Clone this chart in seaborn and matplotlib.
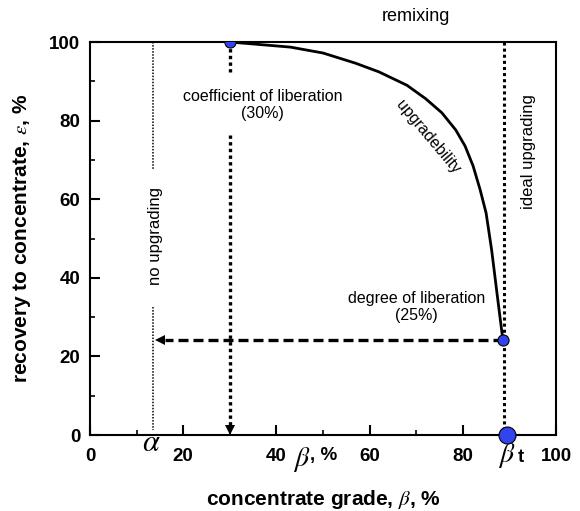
import matplotlib
matplotlib.use("Agg")
import matplotlib.pyplot as plt
import seaborn as sns
import pandas as pd

# ---- data ----
grade = [30, 43, 50, 57, 62, 68, 72, 75.5, 78.5, 80.5, 82.2, 83.7, 85.0, 86.2, 87.4, 88.6]
recovery = [100, 98.7, 97.2, 94.6, 92.4, 89, 85.6, 82.0, 77.6, 73.5, 68.5, 62.5, 56.5, 47, 35.5, 24.2]
point_grade = [30, 88.6]
point_recovery = [100, 24.2]
beta_t = 88.8
beta_t_point = 89.4
alpha = 13.5
liberation_coef = 30
liberation_degree = 24.2
x_ticks = [0, 20, 40, 60, 80, 100]
x_minor = [10, 30, 50, 70, 90]
y_ticks = [0, 20, 40, 60, 80, 100]
y_minor = [10, 30, 50, 70, 90]

sns.set_style("ticks", rc={"axes.edgecolor": "black", "text.color": "black",
                           "xtick.color": "black", "ytick.color": "black",
                           "axes.labelcolor": "black"})
plt.rcParams['font.family'] = ['Liberation Sans', 'DejaVu Sans']
plt.rcParams['mathtext.fontset'] = 'stix'

fig = plt.figure(figsize=(5.8, 5.11), dpi=100)
ax = fig.add_axes([0.1552, 0.1487, 0.8034, 0.7691])

df = pd.DataFrame({"grade": grade, "recovery": recovery})
sns.lineplot(data=df, x="grade", y="recovery", color="black", lw=2.0, ax=ax, zorder=3)

# no upgrading (thin dotted)
ax.plot([alpha, alpha], [100, 67.4], color="black", lw=1.1, ls=(0, (1, 1)))
ax.plot([alpha, alpha], [32.6, 1.3], color="black", lw=1.1, ls=(0, (1, 1)))
# coefficient of liberation arrow
ax.plot([liberation_coef, liberation_coef], [100, 92], color="black", lw=2.4, ls=(0, (1, 1)))
ax.plot([liberation_coef, liberation_coef], [76.3, 2.0], color="black", lw=2.4, ls=(0, (1, 1)))
ax.plot([liberation_coef], [1.3], marker="v", ms=7.5, color="black", mew=0)
# degree of liberation arrow
ax.plot([88.6, 16.0], [liberation_degree, liberation_degree], color="black", lw=2.4, ls=(0, (3, 1.5)))
ax.plot([15.0], [liberation_degree], marker="<", ms=7.5, color="black", mew=0)
# ideal upgrading
ax.plot([beta_t, beta_t], [100, 0], color="black", lw=2.2, ls=(0, (1, 1)))

sns.scatterplot(x=point_grade, y=point_recovery, s=64, color="#3344ee",
                edgecolor="black", linewidth=0.8, ax=ax, zorder=5)
sns.scatterplot(x=[beta_t_point], y=[0], s=150, color="#3344ee",
                edgecolor="black", linewidth=0.8, ax=ax, zorder=6)
ax.collections[-1].set_clip_on(False)

ax.set_xlim(0, 100)
ax.set_ylim(0, 100)
ax.set_xticks(x_ticks)
ax.set_yticks(y_ticks)
ax.set_xticks(x_minor, minor=True)
ax.set_yticks(y_minor, minor=True)
ax.tick_params(which="major", direction="in", length=7, width=1.5, labelsize=13.5, pad=7)
ax.tick_params(which="minor", direction="in", length=3.5, width=1.2)
ax.tick_params(axis="x", which="major", pad=9)
for lab in ax.get_xticklabels() + ax.get_yticklabels():
    lab.set_fontweight("bold")
for s in ax.spines.values():
    s.set_linewidth(1.5)

ax.set_xlabel(r"concentrate grade, $\beta$, %", fontsize=15, fontweight="bold")
ax.set_ylabel(r"recovery to concentrate, $\varepsilon$, %", fontsize=15, fontweight="bold")
ax.xaxis.set_label_coords(0.5, -0.135)
ax.yaxis.set_label_coords(-0.122, 0.5)

xt = ax.get_xaxis_transform()
ax.text(alpha - 0.3, -0.02, r"$\alpha$", transform=xt, fontsize=22, ha="center", va="center")
ax.text(45.4, -0.062, r"$\beta$", transform=xt, fontsize=20, ha="center", va="center")
ax.text(47.2, -0.051, ", %", transform=xt, fontsize=13.5, fontweight="bold", ha="left", va="center")
ax.text(89.4, -0.052, r"$\beta$", transform=xt, fontsize=20, ha="center", va="center")
ax.text(92.4, -0.058, "t", transform=xt, fontsize=13.5, fontweight="bold", ha="center", va="center")

ax.text(70, 106.4, "remixing", fontsize=13, ha="center", va="center", clip_on=False)
ax.text(37, 84, "coefficient of liberation\n(30%)", fontsize=11.5, ha="center", va="center",
        linespacing=1.2)
ax.text(70, 32.6, "degree of liberation\n(25%)", fontsize=11.5, ha="center", va="center",
        linespacing=1.2)
ax.text(14.0, 50.6, "no upgrading", fontsize=12, rotation=90, ha="center", va="center")
ax.text(94.0, 72, "ideal upgrading", fontsize=12, rotation=90, ha="center", va="center")
ax.text(72.5, 75.8, "upgradebility", fontsize=11.5, rotation=-50, ha="center", va="center",
        rotation_mode="anchor")

fig.savefig("out.png", dpi=100)
